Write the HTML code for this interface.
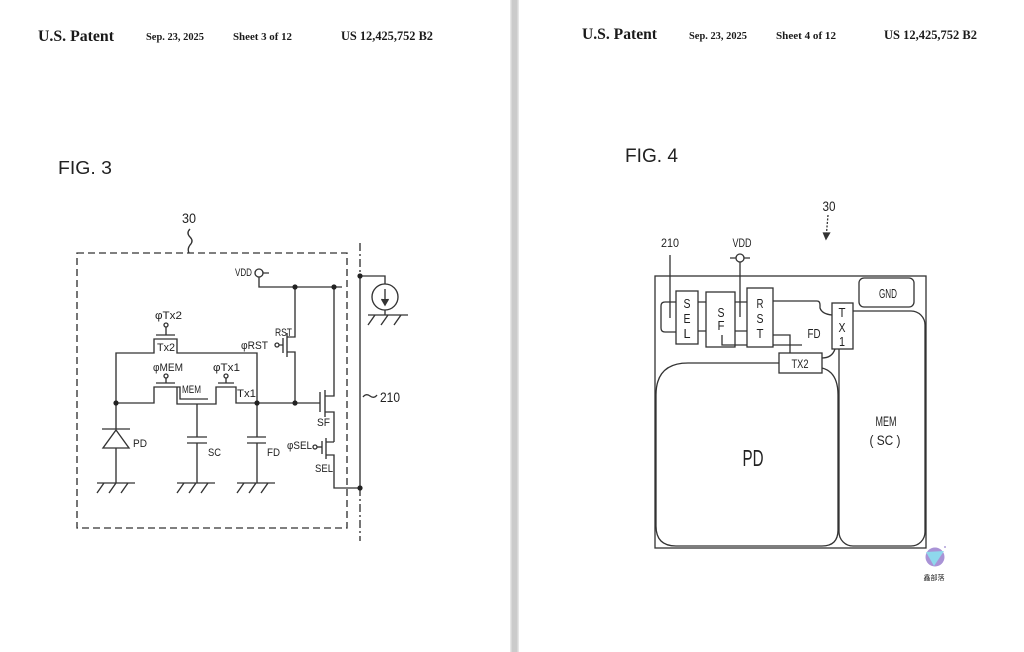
<!DOCTYPE html>
<html><head><meta charset="utf-8"><style>
html,body{margin:0;padding:0;background:#fff;}
svg{display:block;}
text{font-family:"Liberation Sans","Noto Sans CJK SC",sans-serif;fill:#222;}
.s{font-family:"Liberation Serif",serif;font-weight:bold;fill:#1a1a1a;}
</style></head><body>
<svg width="1024" height="652" viewBox="0 0 1024 652" xmlns="http://www.w3.org/2000/svg">
<rect x="0" y="0" width="1024" height="652" fill="#ffffff"/>
<!-- divider -->
<rect x="510" y="0" width="9" height="652" fill="#e6e6e6"/>
<rect x="511.5" y="0" width="6" height="652" fill="#cbcbcb"/>

<!-- headers -->
<text class="s" x="38" y="41" font-size="15.5" textLength="76" lengthAdjust="spacingAndGlyphs">U.S. Patent</text>
<text class="s" x="146" y="40" font-size="10.5" textLength="58" lengthAdjust="spacingAndGlyphs">Sep. 23, 2025</text>
<text class="s" x="233" y="40" font-size="10.5" textLength="59" lengthAdjust="spacingAndGlyphs">Sheet 3 of 12</text>
<text class="s" x="341" y="40" font-size="12.5" textLength="92" lengthAdjust="spacingAndGlyphs">US 12,425,752 B2</text>

<text class="s" x="582" y="39" font-size="15.5" textLength="75" lengthAdjust="spacingAndGlyphs">U.S. Patent</text>
<text class="s" x="689" y="39" font-size="10.5" textLength="58" lengthAdjust="spacingAndGlyphs">Sep. 23, 2025</text>
<text class="s" x="776" y="39" font-size="10.5" textLength="60" lengthAdjust="spacingAndGlyphs">Sheet 4 of 12</text>
<text class="s" x="884" y="39" font-size="12.5" textLength="93" lengthAdjust="spacingAndGlyphs">US 12,425,752 B2</text>

<!-- FIG 3 -->
<text x="58" y="174" font-size="18.5" fill="#333" textLength="54" lengthAdjust="spacingAndGlyphs">FIG. 3</text>
<g stroke="#333" stroke-width="1.35" fill="none">
  <rect x="77" y="253" width="270" height="275" stroke-dasharray="7,4"/>
  <path d="M190,229 q-4,4 0,8 q4,4 0,8 q-3,4 -1,8"/>
  <!-- 210 line -->
  <line x1="360" y1="243" x2="360" y2="276" stroke-dasharray="8,3,2,3"/>
  <line x1="360" y1="276" x2="360" y2="488"/>
  <line x1="360" y1="488" x2="360" y2="541" stroke-dasharray="8,3,2,3"/>
  <path d="M360,276 H385 V284"/>
  <circle cx="385" cy="297" r="13"/>
  <line x1="385" y1="289" x2="385" y2="303"/>
  <path d="M381.5,299 L385,305 L388.5,299" fill="#333"/>
  <path d="M385,310 V315 M368,315 H408 M375,315 l-7,10 M388,315 l-7,10 M401,315 l-7,10"/>
  <path d="M363,397 q3,-4 7,-1 q4,3 7,-1"/>
  <!-- VDD -->
  <circle cx="259" cy="273" r="4"/>
  <path d="M263,273 H269 M259,277 V287 H342"/>
  <!-- RST -->
  <path d="M295,287 V337 H287 M287,333 V357 M287,352 H295 V403"/>
  <path d="M283,338 V353 M279,345 H283"/>
  <circle cx="277" cy="345" r="2"/>
  <!-- SF -->
  <path d="M320,392 V412 M325,390 V417 M325,396 H334 V287 M325,412 H334 V442"/>
  <!-- SEL -->
  <path d="M322,441 V454 M326,438 V459 M326,442 H334 M326,455 H334 V488 H360"/>
  <path d="M317,447 H322"/>
  <circle cx="315" cy="447" r="2"/>
  <!-- Tx2 wire -->
  <path d="M116,403 V353 H154 V339 H177 V353 H257 V437"/>
  <path d="M156,335 H175 M166,335 V327"/>
  <circle cx="166" cy="325" r="2"/>
  <!-- main FD wire -->
  <path d="M116,403 H154 V387 H180 V399 H208"/>
  <path d="M177,387 V404 H216 V387 H236 V403 H320"/>
  <path d="M156,383 H175 M166,383 V378"/>
  <circle cx="166" cy="376" r="2"/>
  <path d="M218,383 H234 M226,383 V378"/>
  <circle cx="226" cy="376" r="2"/>
  <!-- SC -->
  <path d="M197,404 V437 M187,437 H207 M187,443 H207 M197,443 V483 M177,483 H215 M184,483 l-7,10 M196,483 l-7,10 M208,483 l-7,10"/>
  <!-- FD cap -->
  <path d="M247,437 H266 M247,443 H266 M257,443 V483 M237,483 H275 M244,483 l-7,10 M256,483 l-7,10 M268,483 l-7,10"/>
  <!-- PD -->
  <path d="M102,429 H130 M116,403 V429"/>
  <path d="M116,430 L103,448 H129 Z"/>
  <path d="M116,448 V483 M97,483 H135 M104,483 l-7,10 M116,483 l-7,10 M128,483 l-7,10"/>
</g>
<g fill="#222">
  <circle cx="116" cy="403" r="2.6"/>
  <circle cx="257" cy="403" r="2.6"/>
  <circle cx="295" cy="403" r="2.6"/>
  <circle cx="295" cy="287" r="2.6"/>
  <circle cx="334" cy="287" r="2.6"/>
  <circle cx="360" cy="276" r="2.6"/>
  <circle cx="360" cy="488" r="2.6"/>
</g>
<g font-size="11">
  <text x="182" y="223" font-size="13.5" textLength="14" lengthAdjust="spacingAndGlyphs">30</text>
  <text x="380" y="402" font-size="13.5" textLength="20" lengthAdjust="spacingAndGlyphs">210</text>
  <text x="235" y="276" textLength="17" lengthAdjust="spacingAndGlyphs">VDD</text>
  <text x="275" y="336" textLength="17" lengthAdjust="spacingAndGlyphs">RST</text>
  <text x="241" y="349" textLength="27" lengthAdjust="spacingAndGlyphs">φRST</text>
  <text x="155" y="319" textLength="27" lengthAdjust="spacingAndGlyphs">φTx2</text>
  <text x="157" y="351" textLength="18" lengthAdjust="spacingAndGlyphs">Tx2</text>
  <text x="153" y="371" textLength="30" lengthAdjust="spacingAndGlyphs">φMEM</text>
  <text x="182" y="393" textLength="19" lengthAdjust="spacingAndGlyphs">MEM</text>
  <text x="213" y="371" textLength="27" lengthAdjust="spacingAndGlyphs">φTx1</text>
  <text x="237" y="397" textLength="19" lengthAdjust="spacingAndGlyphs">Tx1</text>
  <text x="133" y="447" textLength="14" lengthAdjust="spacingAndGlyphs">PD</text>
  <text x="208" y="456" textLength="13" lengthAdjust="spacingAndGlyphs">SC</text>
  <text x="267" y="456" textLength="13" lengthAdjust="spacingAndGlyphs">FD</text>
  <text x="317" y="426" textLength="13" lengthAdjust="spacingAndGlyphs">SF</text>
  <text x="287" y="449" textLength="25" lengthAdjust="spacingAndGlyphs">φSEL</text>
  <text x="315" y="472" textLength="18" lengthAdjust="spacingAndGlyphs">SEL</text>
</g>

<!-- FIG 4 -->
<text x="625" y="162" font-size="19" fill="#333" textLength="53" lengthAdjust="spacingAndGlyphs">FIG. 4</text>
<g stroke="#333" stroke-width="1.3" fill="none">
  <path d="M828,215 L826.5,233" stroke-dasharray="2,1.5"/>
  <path d="M823.5,233 L826,239 L829.5,233 Z" fill="#333"/>
  <rect x="655" y="276" width="271" height="272" fill="#fff"/>
  <rect x="859" y="278" width="55" height="29" rx="5"/>
  <rect x="839" y="311" width="86" height="235" rx="14" fill="#fff"/>
  <path d="M688,363 H779 M822,368 Q838,372 838,395 V530 Q838,546 822,546 H676 Q656,546 656,526 V395 Q656,363 688,363" fill="#fff"/>
  <!-- 210 / small rect -->
  <path d="M676,302 H665 Q661,302 661,306 V328 Q661,332 665,332 H676"/>
  <path d="M670,255 V318"/>
  <rect x="676" y="291" width="22" height="53" fill="#fff"/>
  <path d="M698,302 H706 M698,331 H706"/>
  <rect x="706" y="292" width="29" height="55" fill="#fff"/>
  <path d="M722,335 V345 H802"/>
  <path d="M735,302 H747 M735,331 H747"/>
  <circle cx="740" cy="258" r="4" fill="#fff"/>
  <path d="M730,258 H736 M744,258 H750 M740,262 V317"/>
  <rect x="747" y="288" width="26" height="59" fill="#fff"/>
  <path d="M773,301 H817 Q820,301 820,305 V308 Q822,314 832,315"/>
  <path d="M773,335 H790 V353"/>
  <rect x="832" y="303" width="21" height="46" fill="#fff"/>
  <rect x="779" y="353" width="43" height="20" fill="#fff"/>
  <path d="M822,358 Q832,358 835,349"/>
</g>
<g font-size="11" text-anchor="middle">
  <text x="829" y="211" font-size="13.5" textLength="13" lengthAdjust="spacingAndGlyphs">30</text>
  <text x="670" y="247" font-size="11.5" textLength="18" lengthAdjust="spacingAndGlyphs">210</text>
  <text x="742" y="247" font-size="11.5" textLength="19" lengthAdjust="spacingAndGlyphs">VDD</text>
  <text x="888" y="298" font-size="12.5" textLength="18" lengthAdjust="spacingAndGlyphs">GND</text>
</g>
<g font-size="13" text-anchor="middle">
  <text x="687" y="308" textLength="7" lengthAdjust="spacingAndGlyphs">S</text><text x="687" y="323" textLength="7" lengthAdjust="spacingAndGlyphs">E</text><text x="687" y="338" textLength="7" lengthAdjust="spacingAndGlyphs">L</text>
  <text x="721" y="317" textLength="7" lengthAdjust="spacingAndGlyphs">S</text><text x="721" y="330" textLength="7" lengthAdjust="spacingAndGlyphs">F</text>
  <text x="760" y="308" textLength="7" lengthAdjust="spacingAndGlyphs">R</text><text x="760" y="323" textLength="7" lengthAdjust="spacingAndGlyphs">S</text><text x="760" y="338" textLength="7" lengthAdjust="spacingAndGlyphs">T</text>
  <text x="842" y="317" textLength="7" lengthAdjust="spacingAndGlyphs">T</text><text x="842" y="332" textLength="7" lengthAdjust="spacingAndGlyphs">X</text><text x="842" y="346" textLength="6" lengthAdjust="spacingAndGlyphs">1</text>
  <text x="814" y="338" font-size="12.5" textLength="13" lengthAdjust="spacingAndGlyphs">FD</text>
  <text x="800" y="368" font-size="12" textLength="17" lengthAdjust="spacingAndGlyphs">TX2</text>
  <text x="886" y="426" font-size="13.5" textLength="21" lengthAdjust="spacingAndGlyphs">MEM</text>
  <text x="885" y="445" font-size="13.5" textLength="31" lengthAdjust="spacingAndGlyphs">( SC )</text>
  <text x="753" y="466" font-size="23" textLength="21" lengthAdjust="spacingAndGlyphs">PD</text>
</g>

<!-- watermark -->
<circle cx="935" cy="557" r="9.5" fill="#a993d6"/>
<path d="M926,552 L944,551 L934,566 Z" fill="#8fd8ec"/>
<circle cx="945" cy="547" r="1" fill="#b0a0d8"/>
<text x="934" y="580" font-size="7" text-anchor="middle" fill="#8c84b0" font-family="'Noto Sans CJK SC',sans-serif">鑫部落</text>
</svg>
</body></html>
